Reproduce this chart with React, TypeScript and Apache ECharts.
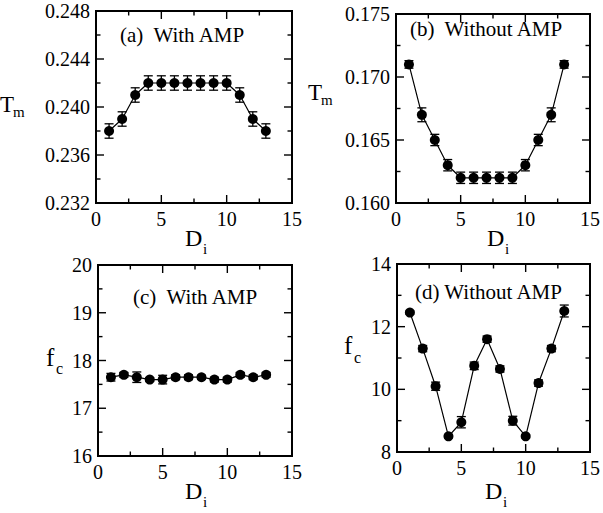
import React, { useEffect, useRef } from "react";
import * as echarts from "echarts";

// ---------- data ----------
const DI = [1, 2, 3, 4, 5, 6, 7, 8, 9, 10, 11, 12, 13];

const TM_WITH = [0.238, 0.239, 0.241, 0.242, 0.242, 0.242, 0.242, 0.242, 0.242, 0.242, 0.241, 0.239, 0.238];
const TM_WITH_ERR = [0.0006, 0.0006, 0.0006, 0.0006, 0.0006, 0.0006, 0.0006, 0.0006, 0.0006, 0.0006, 0.0006, 0.0006, 0.0006];

const TM_WITHOUT = [0.171, 0.167, 0.165, 0.163, 0.162, 0.162, 0.162, 0.162, 0.162, 0.163, 0.165, 0.167, 0.171];
const TM_WITHOUT_ERR = [0.0003, 0.00055, 0.00045, 0.00045, 0.00045, 0.00045, 0.00045, 0.00045, 0.00045, 0.00045, 0.00045, 0.00055, 0.0003];

const FC_WITH = [17.65, 17.7, 17.65, 17.6, 17.6, 17.65, 17.65, 17.65, 17.6, 17.6, 17.7, 17.65, 17.7];
const FC_WITH_ERR = [0.08, 0.05, 0.11, 0.04, 0.09, 0.05, 0.05, 0.04, 0.05, 0.05, 0.05, 0.05, 0.05];

const FC_WITHOUT = [12.45, 11.3, 10.1, 8.5, 8.95, 10.75, 11.6, 10.65, 9.0, 8.5, 10.2, 11.3, 12.5];
const FC_WITHOUT_ERR = [0.05, 0.1, 0.13, 0.05, 0.18, 0.12, 0.1, 0.1, 0.14, 0.05, 0.1, 0.1, 0.19];

// axis ranges [min, max, interval]
const X_RANGE = [0, 15, 5];
const Y_RANGE_A = [0.232, 0.248, 0.004];
const Y_RANGE_B = [0.16, 0.175, 0.005];
const Y_RANGE_C = [16, 20, 1];
const Y_RANGE_D = [8, 14, 2];
const Y_DECIMALS = [3, 3, 0, 0];

const PANEL_TITLES = ["(a)  With AMP", "(b)  Without AMP", "(c)  With AMP", "(d) Without AMP"];

// ---------- layout ----------
const FONT = "Liberation Serif";
const GRIDS = [
  { left: 96, top: 11, width: 196, height: 192 },
  { left: 396, top: 14, width: 197, height: 189 },
  { left: 98, top: 265, width: 194, height: 191 },
  { left: 397, top: 264, width: 194, height: 188 },
];
const TITLE_POS = [
  [120, 35],
  [410, 29],
  [133, 297],
  [415, 292],
];

// tick values (major + one minor between) from an axis range
function tickValues(range: number[]) {
  const [min, max, step] = range;
  const n = Math.round(((max - min) / step) * 2);
  const out: number[][] = [];
  for (let k = 0; k <= n; k++) out.push([min + (k * step) / 2, k % 2 === 0 ? 1 : 0]);
  return out;
}

function axisBase(decimals: number) {
  return {
    axisLine: { show: false, onZero: false },
    axisTick: { show: false },
    minorTick: { show: false },
    splitLine: { show: false },
    axisLabel: {
      show: true,
      color: "#000",
      fontSize: 20,
      fontFamily: FONT,
      margin: 6,
      formatter: (v: number) => v.toFixed(decimals),
    },
  };
}

export default function App() {
  const ref = useRef<HTMLDivElement>(null);

  useEffect(() => {
    if (!ref.current) return;
    const chart = echarts.init(ref.current, null, { renderer: "svg" });

    const values = [TM_WITH, TM_WITHOUT, FC_WITH, FC_WITHOUT];
    const errs = [TM_WITH_ERR, TM_WITHOUT_ERR, FC_WITH_ERR, FC_WITHOUT_ERR];
    const yRanges = [Y_RANGE_A, Y_RANGE_B, Y_RANGE_C, Y_RANGE_D];

    const xAxis: any[] = [];
    const yAxis: any[] = [];
    const series: any[] = [];

    GRIDS.forEach((_, i) => {
      const [ymin, ymax, yint] = yRanges[i];
      const [xmin, xmax, xint] = X_RANGE;
      xAxis.push({
        type: "value", gridIndex: i, position: "bottom", min: xmin, max: xmax, interval: xint,
        ...axisBase(0),
      });
      yAxis.push({
        type: "value", gridIndex: i, position: "left", min: ymin, max: ymax, interval: yint,
        ...axisBase(Y_DECIMALS[i]),
      });

      // error bars
      series.push({
        type: "custom",
        xAxisIndex: i,
        yAxisIndex: i,
        data: DI.map((x, k) => [x, values[i][k] - errs[i][k], values[i][k] + errs[i][k]]),
        encode: { x: 0, y: [1, 2] },
        z: 2,
        renderItem: (params: any, api: any) => {
          const x = api.value(0);
          const p1 = api.coord([x, api.value(1)]);
          const p2 = api.coord([x, api.value(2)]);
          const w = 4.5;
          const st = { stroke: "#000", lineWidth: 1.3 };
          return {
            type: "group",
            children: [
              { type: "line", shape: { x1: p1[0], y1: p1[1], x2: p2[0], y2: p2[1] }, style: st },
              { type: "line", shape: { x1: p1[0] - w, y1: p1[1], x2: p1[0] + w, y2: p1[1] }, style: st },
              { type: "line", shape: { x1: p2[0] - w, y1: p2[1], x2: p2[0] + w, y2: p2[1] }, style: st },
            ],
          };
        },
      });

      // points + connecting line
      series.push({
        type: "line",
        xAxisIndex: i,
        yAxisIndex: i,
        data: DI.map((x, k) => [x, values[i][k]]),
        symbol: "circle",
        symbolSize: 10,
        itemStyle: { color: "#000", opacity: 1 },
        lineStyle: { color: "#000", width: 1.2 },
        z: 3,
      });
    });

    const txt = (x: number, y: number, text: string, size: number) => ({
      type: "text",
      x,
      y,
      style: {
        text,
        fill: "#000",
        fontFamily: FONT,
        fontSize: size,
        align: "left",
        verticalAlign: "middle",
      },
      z: 10,
    });

    const graphic: any[] = [];
    PANEL_TITLES.forEach((t, i) => graphic.push(txt(TITLE_POS[i][0], TITLE_POS[i][1], t, 21)));
    // y-axis names with subscripts
    graphic.push(txt(0, 104, "T", 23), txt(13, 112, "m", 15));
    graphic.push(txt(308, 92, "T", 23), txt(321, 100, "m", 15));
    graphic.push(txt(46, 357, "f", 25), txt(56, 368, "c", 16));
    graphic.push(txt(344, 345, "f", 25), txt(354, 357, "c", 16));
    // x-axis names with subscripts
    graphic.push(txt(185, 238, "D", 24), txt(203, 249, "i", 15));
    graphic.push(txt(487, 238, "D", 24), txt(505, 249, "i", 15));
    graphic.push(txt(185, 491, "D", 24), txt(203, 502, "i", 15));
    graphic.push(txt(485, 491, "D", 24), txt(503, 502, "i", 15));

    chart.setOption({
      animation: false,
      backgroundColor: "#fff",
      grid: GRIDS.map((g) => ({ ...g })),
      xAxis,
      yAxis,
      series,
      graphic,
    });

    // frame and inward ticks (mirrored on all four sides), positioned through the axes' scales
    const deco: any[] = [];
    const st = { stroke: "#000", lineWidth: 1.4 };
    const seg = (x1: number, y1: number, x2: number, y2: number) => ({
      type: "line",
      shape: { x1, y1, x2, y2 },
      style: st,
      z: 20,
      silent: true,
    });
    GRIDS.forEach((_, i) => {
      const yr = yRanges[i];
      const xl = chart.convertToPixel({ xAxisIndex: i }, X_RANGE[0]) as number;
      const xr = chart.convertToPixel({ xAxisIndex: i }, X_RANGE[1]) as number;
      const yb = chart.convertToPixel({ yAxisIndex: i }, yr[0]) as number;
      const yt = chart.convertToPixel({ yAxisIndex: i }, yr[1]) as number;
      deco.push({
        type: "rect",
        shape: { x: xl, y: yt, width: xr - xl, height: yb - yt },
        style: { fill: "rgba(0,0,0,0)", stroke: "#000", lineWidth: 2 },
        z: 20,
        silent: true,
      });
      tickValues(X_RANGE).forEach(([v, m]) => {
        const px = chart.convertToPixel({ xAxisIndex: i }, v) as number;
        const len = m ? 8 : 4.5;
        deco.push(seg(px, yb, px, yb - len), seg(px, yt, px, yt + len));
      });
      tickValues(yr).forEach(([v, m]) => {
        const py = chart.convertToPixel({ yAxisIndex: i }, v) as number;
        const len = m ? 8 : 4.5;
        deco.push(seg(xl, py, xl + len, py), seg(xr, py, xr - len, py));
      });
    });

    chart.setOption({ graphic: [...graphic, ...deco] });

    return () => chart.dispose();
  }, []);

  return (
    <div
      ref={ref}
      style={{ position: "absolute", left: 0, top: 0, width: 603, height: 513 }}
    />
  );
}
